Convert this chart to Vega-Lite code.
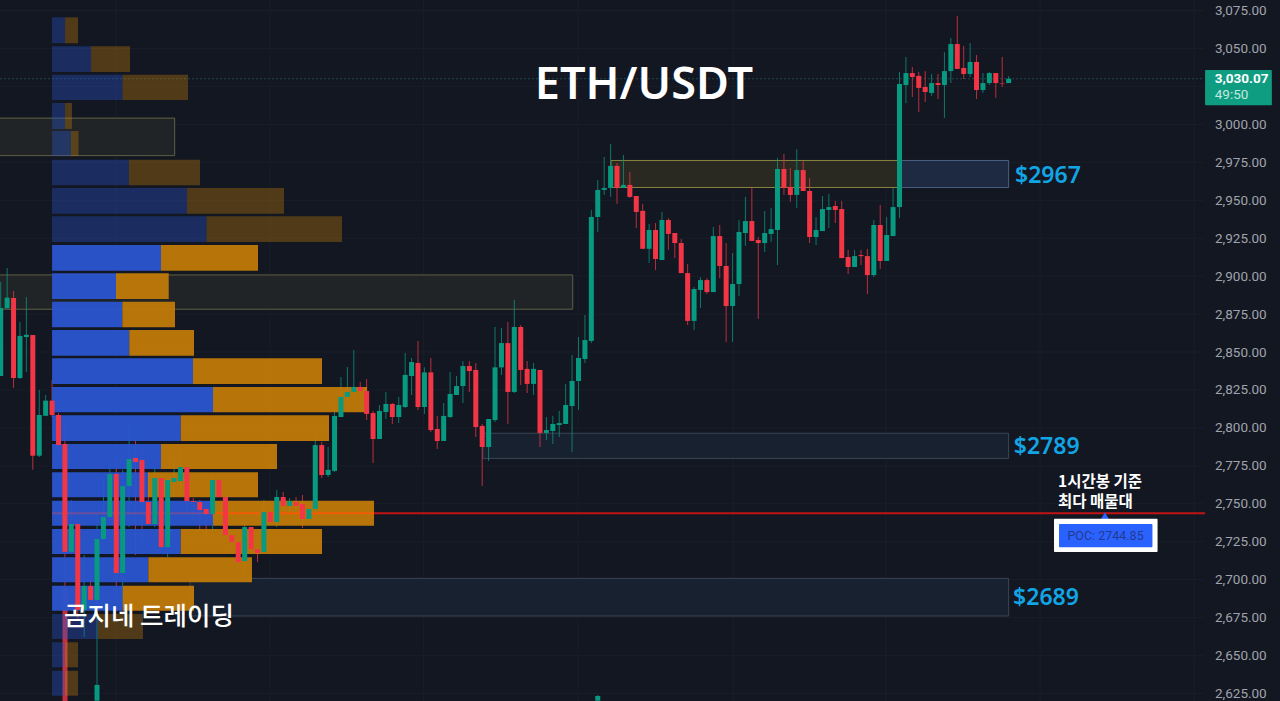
{
  "$schema": "https://vega.github.io/schema/vega-lite/v6.json",
  "width": 1280,
  "height": 701,
  "padding": 0,
  "autosize": "none",
  "background": "#131722",
  "config": {"view": {"stroke": null}, "axisX": {"disable": true}, "font": "Roboto"},
  "resolve": {"scale": {"color": "independent", "fill": "independent", "stroke": "independent"}},
  "datasets": {
    "grid": [{"price":2625},{"price":2650},{"price":2675},{"price":2700},{"price":2725},{"price":2750},{"price":2775},{"price":2800},{"price":2825},{"price":2850},{"price":2875},{"price":2900},{"price":2925},{"price":2950},{"price":2975},{"price":3000},{"price":3025},{"price":3050},{"price":3075}],
    "timegrid": [{"bar":17.96},{"bar":41.95},{"bar":65.9},{"bar":89.9},{"bar":114.1},{"bar":137.9},{"bar":161.9},{"bar":185.9}],
    "zones": [
      {"from":-1,"to":27.1,"top":3004.1,"bottom":2979.4,"kind":"olive_dark"},
      {"from":-1,"to":89.1,"top":2900.8,"bottom":2878.2,"kind":"olive_dark"},
      {"from":139.8,"to":157,"top":2976.2,"bottom":2958.4,"kind":"blue"},
      {"from":95.06,"to":139.8,"top":2976.2,"bottom":2958.4,"kind":"olive"},
      {"from":75.1,"to":157,"top":2796.5,"bottom":2779.9,"kind":"blue_dark"},
      {"from":29.5,"to":157,"top":2700.9,"bottom":2676.1,"kind":"blue_dark"}
    ],
    "profile": [
      {"lo":3053.4,"hi":3070.5,"start":8,"buy":10.02,"sell":12.04,"area":"outside"},
      {"lo":3034.5,"hi":3051.4,"start":8,"buy":14.07,"sell":20.14,"area":"outside"},
      {"lo":3016.0,"hi":3032.7,"start":8,"buy":18.97,"sell":29.17,"area":"outside"},
      {"lo":2997.0,"hi":3014.1,"start":8,"buy":10.02,"sell":11.1,"area":"outside"},
      {"lo":2979.1,"hi":2995.6,"start":8,"buy":10.95,"sell":12.12,"area":"outside"},
      {"lo":2959.8,"hi":2976.7,"start":8,"buy":19.98,"sell":31.04,"area":"outside"},
      {"lo":2941.1,"hi":2958.1,"start":8,"buy":29.02,"sell":44.13,"area":"outside"},
      {"lo":2922.5,"hi":2939.4,"start":8,"buy":32.06,"sell":53.16,"area":"outside"},
      {"lo":2903.6,"hi":2920.5,"start":8,"buy":24.97,"sell":40.08,"area":"value"},
      {"lo":2885.0,"hi":2901.9,"start":8,"buy":17.96,"sell":26.17,"area":"value"},
      {"lo":2866.3,"hi":2883.2,"start":8,"buy":18.94,"sell":27.15,"area":"value"},
      {"lo":2847.6,"hi":2864.5,"start":8,"buy":20.03,"sell":30.11,"area":"value"},
      {"lo":2829.0,"hi":2845.9,"start":8,"buy":29.95,"sell":50.05,"area":"value"},
      {"lo":2810.3,"hi":2827.0,"start":8,"buy":33.07,"sell":57.06,"area":"value"},
      {"lo":2791.4,"hi":2808.3,"start":8,"buy":28.04,"sell":51.14,"area":"value"},
      {"lo":2772.9,"hi":2789.4,"start":8,"buy":24.97,"sell":43.04,"area":"value"},
      {"lo":2754.3,"hi":2770.8,"start":8,"buy":22.94,"sell":40.08,"area":"value"},
      {"lo":2735.6,"hi":2752.0,"start":8,"buy":33.07,"sell":58.15,"area":"value"},
      {"lo":2716.9,"hi":2733.4,"start":8,"buy":28.04,"sell":50.05,"area":"value"},
      {"lo":2698.3,"hi":2714.8,"start":8,"buy":22.99,"sell":39.14,"area":"value"},
      {"lo":2679.6,"hi":2696.1,"start":8,"buy":19,"sell":30.11,"area":"value"},
      {"lo":2660.9,"hi":2677.4,"start":8,"buy":15.11,"sell":22.16,"area":"outside"},
      {"lo":2642.3,"hi":2658.8,"start":8,"buy":10.02,"sell":12.04,"area":"outside"},
      {"lo":2623.6,"hi":2640.0,"start":8,"buy":10.02,"sell":12.04,"area":"outside"}
    ],
    "poc": [
      {"price":2743.8,"from":8,"to":33,"part":"buy"},
      {"price":2743.8,"from":33,"to":58.15,"part":"sell"},
      {"price":2743.8,"from":58.15,"to":187.6,"part":"line"}
    ],
    "candles": [
      {"bar":0,"o":2834.2,"h":2896.2,"l":2834.2,"c":2879.0},
      {"bar":1,"o":2878.8,"h":2905.4,"l":2878.8,"c":2885.8},
      {"bar":2,"o":2885.6,"h":2890.2,"l":2826.3,"c":2832.9},
      {"bar":3,"o":2832.9,"h":2869.8,"l":2832.2,"c":2860.6},
      {"bar":4,"o":2859.9,"h":2886.2,"l":2836.9,"c":2861.4},
      {"bar":5,"o":2861.2,"h":2861.2,"l":2772.4,"c":2781.7},
      {"bar":6,"o":2781.7,"h":2825.0,"l":2780.8,"c":2808.5},
      {"bar":7,"o":2808.0,"h":2821.7,"l":2808.0,"c":2818.0},
      {"bar":8,"o":2818.0,"h":2831.6,"l":2807.2,"c":2808.5},
      {"bar":9,"o":2808.5,"h":2809.8,"l":2780.2,"c":2788.7},
      {"bar":10,"o":2789.4,"h":2800.6,"l":2693.3,"c":2718.4},
      {"bar":11,"o":2718.4,"h":2752.5,"l":2717.6,"c":2736.7},
      {"bar":12,"o":2736.7,"h":2747.2,"l":2673.5,"c":2680.1},
      {"bar":13,"o":2680.1,"h":2716.3,"l":2662.3,"c":2695.9},
      {"bar":14,"o":2695.9,"h":2708.4,"l":2686.7,"c":2686.7},
      {"bar":15,"o":2686.7,"h":2743.9,"l":2686.7,"c":2726.8},
      {"bar":15,"o":2620.3,"h":2686.7,"l":2620.3,"c":2630.7},
      {"bar":16,"o":2726.8,"h":2767.0,"l":2725.5,"c":2741.3},
      {"bar":17,"o":2741.3,"h":2778.9,"l":2739.3,"c":2769.7},
      {"bar":18,"o":2769.7,"h":2778.9,"l":2686.7,"c":2704.4},
      {"bar":19,"o":2704.4,"h":2772.4,"l":2682.1,"c":2761.7},
      {"bar":20,"o":2761.7,"h":2803.2,"l":2734.7,"c":2779.5},
      {"bar":21,"o":2780.2,"h":2793.3,"l":2716.3,"c":2777.6},
      {"bar":22,"o":2778.9,"h":2787.4,"l":2721.5,"c":2751.2},
      {"bar":23,"o":2751.2,"h":2770.3,"l":2736.0,"c":2736.7},
      {"bar":24,"o":2736.7,"h":2774.2,"l":2734.7,"c":2767.0},
      {"bar":25,"o":2767.0,"h":2770.3,"l":2720.9,"c":2721.5},
      {"bar":26,"o":2721.5,"h":2767.0,"l":2714.9,"c":2765.7},
      {"bar":27,"o":2764.4,"h":2778.9,"l":2754.5,"c":2767.0},
      {"bar":28,"o":2765.0,"h":2784.2,"l":2757.1,"c":2774.2},
      {"bar":29,"o":2774.2,"h":2775.5,"l":2739.3,"c":2751.8},
      {"bar":30,"o":2751.8,"h":2753.8,"l":2741.3,"c":2751.2},
      {"bar":31,"o":2751.2,"h":2752.5,"l":2732.7,"c":2745.9},
      {"bar":32,"o":2746.6,"h":2750.5,"l":2728.1,"c":2743.3},
      {"bar":33,"o":2743.3,"h":2768.3,"l":2731.4,"c":2765.7},
      {"bar":34,"o":2765.7,"h":2765.7,"l":2754.5,"c":2754.5},
      {"bar":35,"o":2754.5,"h":2754.5,"l":2728.1,"c":2729.4},
      {"bar":36,"o":2729.4,"h":2731.4,"l":2721.5,"c":2724.8},
      {"bar":37,"o":2724.8,"h":2724.8,"l":2710.3,"c":2711.6},
      {"bar":38,"o":2712.3,"h":2741.3,"l":2704.4,"c":2734.7},
      {"bar":39,"o":2734.7,"h":2734.7,"l":2719.5,"c":2720.2},
      {"bar":40,"o":2720.2,"h":2721.5,"l":2711.7,"c":2717.6},
      {"bar":41,"o":2718.2,"h":2752.5,"l":2717.6,"c":2744.6},
      {"bar":42,"o":2744.6,"h":2745.9,"l":2737.3,"c":2738.0},
      {"bar":43,"o":2738.0,"h":2759.1,"l":2734.7,"c":2754.5},
      {"bar":44,"o":2754.5,"h":2757.8,"l":2745.9,"c":2748.6},
      {"bar":45,"o":2748.6,"h":2753.8,"l":2743.9,"c":2751.8},
      {"bar":46,"o":2751.2,"h":2754.5,"l":2742.6,"c":2748.6},
      {"bar":47,"o":2749.9,"h":2755.8,"l":2734.0,"c":2740.0},
      {"bar":48,"o":2740.0,"h":2747.2,"l":2739.3,"c":2746.6},
      {"bar":49,"o":2746.6,"h":2796.7,"l":2745.9,"c":2788.7},
      {"bar":50,"o":2788.7,"h":2790.8,"l":2767.0,"c":2769.0},
      {"bar":51,"o":2769.0,"h":2787.4,"l":2767.7,"c":2772.4},
      {"bar":52,"o":2771.7,"h":2815.1,"l":2771.0,"c":2807.9},
      {"bar":53,"o":2807.2,"h":2833.5,"l":2807.2,"c":2820.4},
      {"bar":54,"o":2820.4,"h":2840.1,"l":2810.5,"c":2823.7},
      {"bar":55,"o":2823.7,"h":2851.3,"l":2819.7,"c":2827.0},
      {"bar":56,"o":2827.0,"h":2830.3,"l":2823.7,"c":2824.3},
      {"bar":57,"o":2824.3,"h":2832.2,"l":2805.2,"c":2809.2},
      {"bar":58,"o":2809.8,"h":2811.2,"l":2776.9,"c":2792.7},
      {"bar":59,"o":2792.7,"h":2815.1,"l":2792.7,"c":2811.2},
      {"bar":60,"o":2810.5,"h":2823.7,"l":2805.9,"c":2815.8},
      {"bar":61,"o":2815.8,"h":2816.4,"l":2802.6,"c":2807.2},
      {"bar":62,"o":2807.2,"h":2820.4,"l":2803.2,"c":2815.1},
      {"bar":63,"o":2813.8,"h":2849.4,"l":2813.1,"c":2834.9},
      {"bar":64,"o":2834.2,"h":2846.1,"l":2821.7,"c":2843.4},
      {"bar":65,"o":2842.8,"h":2857.3,"l":2811.8,"c":2813.8},
      {"bar":66,"o":2813.8,"h":2839.9,"l":2809.2,"c":2836.6},
      {"bar":67,"o":2836.6,"h":2846.1,"l":2797.3,"c":2798.6},
      {"bar":68,"o":2799.3,"h":2807.9,"l":2786.1,"c":2791.4},
      {"bar":69,"o":2791.4,"h":2816.4,"l":2791.4,"c":2807.9},
      {"bar":70,"o":2807.2,"h":2836.9,"l":2806.5,"c":2822.4},
      {"bar":71,"o":2821.7,"h":2834.2,"l":2821.7,"c":2827.6},
      {"bar":72,"o":2827.6,"h":2844.1,"l":2816.4,"c":2840.8},
      {"bar":73,"o":2840.8,"h":2844.1,"l":2823.7,"c":2837.5},
      {"bar":74,"o":2838.2,"h":2842.8,"l":2794.0,"c":2800.6},
      {"bar":75,"o":2801.3,"h":2802.6,"l":2761.7,"c":2787.4},
      {"bar":76,"o":2787.4,"h":2805.9,"l":2778.2,"c":2805.9},
      {"bar":77,"o":2805.2,"h":2866.5,"l":2803.9,"c":2839.9},
      {"bar":78,"o":2839.9,"h":2865.9,"l":2834.9,"c":2855.9},
      {"bar":79,"o":2855.9,"h":2869.8,"l":2802.6,"c":2823.7},
      {"bar":80,"o":2823.7,"h":2884.3,"l":2823.0,"c":2866.5},
      {"bar":81,"o":2866.5,"h":2867.8,"l":2828.3,"c":2838.2},
      {"bar":82,"o":2838.9,"h":2844.1,"l":2823.0,"c":2829.0},
      {"bar":83,"o":2829.0,"h":2842.8,"l":2821.7,"c":2838.9},
      {"bar":84,"o":2838.2,"h":2838.2,"l":2787.4,"c":2796.7},
      {"bar":85,"o":2796.7,"h":2807.2,"l":2792.0,"c":2798.6},
      {"bar":86,"o":2798.0,"h":2807.9,"l":2789.4,"c":2802.6},
      {"bar":87,"o":2801.9,"h":2811.2,"l":2794.0,"c":2803.2},
      {"bar":88,"o":2802.6,"h":2829.0,"l":2802.6,"c":2815.1},
      {"bar":89,"o":2814.4,"h":2848.0,"l":2784.2,"c":2830.9},
      {"bar":90,"o":2830.9,"h":2859.9,"l":2811.8,"c":2846.1},
      {"bar":91,"o":2845.4,"h":2874.4,"l":2842.8,"c":2857.9},
      {"bar":92,"o":2857.3,"h":2943.6,"l":2855.9,"c":2939.0},
      {"bar":93,"o":2939.0,"h":2963.3,"l":2929.1,"c":2956.8},
      {"bar":93,"o":2620.3,"h":2624.0,"l":2620.3,"c":2623.4},
      {"bar":94,"o":2956.8,"h":2978.5,"l":2953.5,"c":2958.1},
      {"bar":95,"o":2958.1,"h":2987.0,"l":2952.2,"c":2972.6},
      {"bar":96,"o":2972.6,"h":2974.5,"l":2947.6,"c":2958.1},
      {"bar":97,"o":2958.1,"h":2979.8,"l":2958.1,"c":2960.1},
      {"bar":98,"o":2960.1,"h":2968.6,"l":2951.5,"c":2952.2},
      {"bar":99,"o":2952.8,"h":2952.8,"l":2931.7,"c":2942.3},
      {"bar":100,"o":2943.0,"h":2947.6,"l":2918.0,"c":2918.0},
      {"bar":101,"o":2918.0,"h":2934.3,"l":2908.7,"c":2930.4},
      {"bar":102,"o":2930.4,"h":2935.0,"l":2904.0,"c":2911.3},
      {"bar":103,"o":2910.6,"h":2942.3,"l":2910.6,"c":2937.0},
      {"bar":104,"o":2937.0,"h":2938.3,"l":2917.3,"c":2927.8},
      {"bar":105,"o":2928.4,"h":2928.4,"l":2911.9,"c":2921.8},
      {"bar":106,"o":2921.8,"h":2924.5,"l":2902.0,"c":2902.0},
      {"bar":107,"o":2902.0,"h":2908.0,"l":2867.8,"c":2870.5},
      {"bar":108,"o":2870.5,"h":2892.8,"l":2864.5,"c":2891.5},
      {"bar":109,"o":2890.9,"h":2899.4,"l":2879.0,"c":2897.4},
      {"bar":110,"o":2897.4,"h":2898.7,"l":2888.2,"c":2889.5},
      {"bar":111,"o":2889.5,"h":2932.4,"l":2889.5,"c":2926.4},
      {"bar":112,"o":2926.4,"h":2933.7,"l":2898.7,"c":2906.7},
      {"bar":113,"o":2906.7,"h":2921.8,"l":2856.6,"c":2880.3},
      {"bar":114,"o":2880.3,"h":2915.2,"l":2856.6,"c":2894.8},
      {"bar":115,"o":2894.8,"h":2937.0,"l":2886.9,"c":2929.1},
      {"bar":116,"o":2928.4,"h":2952.2,"l":2919.9,"c":2936.3},
      {"bar":117,"o":2936.3,"h":2958.8,"l":2923.2,"c":2923.2},
      {"bar":118,"o":2923.8,"h":2925.8,"l":2871.8,"c":2921.8},
      {"bar":119,"o":2921.8,"h":2942.9,"l":2915.9,"c":2928.4},
      {"bar":120,"o":2927.8,"h":2944.9,"l":2922.5,"c":2931.0},
      {"bar":121,"o":2930.4,"h":2977.8,"l":2907.3,"c":2970.6},
      {"bar":122,"o":2970.6,"h":2980.5,"l":2953.5,"c":2958.1},
      {"bar":123,"o":2958.8,"h":2971.2,"l":2948.9,"c":2953.5},
      {"bar":124,"o":2953.5,"h":2983.7,"l":2944.9,"c":2969.9},
      {"bar":125,"o":2969.9,"h":2975.8,"l":2956.1,"c":2956.1},
      {"bar":126,"o":2956.1,"h":2964.6,"l":2921.8,"c":2925.8},
      {"bar":127,"o":2925.8,"h":2938.9,"l":2920.5,"c":2930.4},
      {"bar":128,"o":2929.7,"h":2952.8,"l":2929.7,"c":2944.2},
      {"bar":129,"o":2943.6,"h":2954.1,"l":2931.7,"c":2945.5},
      {"bar":130,"o":2946.2,"h":2949.5,"l":2935.0,"c":2943.6},
      {"bar":131,"o":2944.2,"h":2949.5,"l":2911.9,"c":2911.9},
      {"bar":132,"o":2912.6,"h":2917.3,"l":2901.4,"c":2906.0},
      {"bar":133,"o":2906.0,"h":2917.3,"l":2906.0,"c":2913.2},
      {"bar":134,"o":2913.9,"h":2917.3,"l":2907.3,"c":2913.2},
      {"bar":135,"o":2913.2,"h":2918.0,"l":2888.2,"c":2900.7},
      {"bar":136,"o":2900.7,"h":2937.0,"l":2899.4,"c":2933.7},
      {"bar":137,"o":2933.7,"h":2946.9,"l":2904.7,"c":2910.0},
      {"bar":138,"o":2910.0,"h":2938.9,"l":2910.0,"c":2927.1},
      {"bar":139,"o":2926.4,"h":2958.1,"l":2926.4,"c":2945.5},
      {"bar":140,"o":2945.5,"h":3034.5,"l":2938.3,"c":3026.6},
      {"bar":141,"o":3025.9,"h":3044.4,"l":3014.0,"c":3033.8},
      {"bar":142,"o":3033.8,"h":3037.8,"l":3018.0,"c":3031.2},
      {"bar":143,"o":3031.9,"h":3034.5,"l":3008.1,"c":3024.0},
      {"bar":144,"o":3024.6,"h":3035.1,"l":3014.7,"c":3021.3},
      {"bar":145,"o":3020.7,"h":3033.2,"l":3018.7,"c":3027.2},
      {"bar":146,"o":3027.2,"h":3033.2,"l":3016.7,"c":3025.9},
      {"bar":147,"o":3025.9,"h":3047.7,"l":3004.2,"c":3035.1},
      {"bar":148,"o":3035.1,"h":3056.9,"l":3027.2,"c":3052.9},
      {"bar":149,"o":3052.9,"h":3071.4,"l":3036.5,"c":3036.5},
      {"bar":150,"o":3037.1,"h":3051.6,"l":3029.9,"c":3033.2},
      {"bar":151,"o":3033.2,"h":3053.6,"l":3031.2,"c":3041.1},
      {"bar":152,"o":3041.1,"h":3045.7,"l":3016.7,"c":3022.6},
      {"bar":153,"o":3022.6,"h":3033.8,"l":3020.7,"c":3027.2},
      {"bar":154,"o":3027.2,"h":3034.5,"l":3025.9,"c":3033.8},
      {"bar":155,"o":3033.8,"h":3033.8,"l":3017.4,"c":3027.2},
      {"bar":156,"o":3027.2,"h":3044.4,"l":3024.6,"c":3026.9},
      {"bar":157,"o":3027.2,"h":3031.8,"l":3027.2,"c":3030.07}
    ]
  },
  "layer": [
    {
      "data": {"name": "grid"},
      "mark": {"type": "rule", "color": "#1a1e29", "strokeWidth": 1},
      "encoding": {
        "x": {"datum": -0.11, "type": "quantitative", "scale": {"domain": [-0.11, 199.27], "nice": false, "zero": false, "padding": 0}},
        "x2": {"datum": 187.4},
        "y": {
          "field": "price",
          "type": "quantitative",
          "scale": {"domain": [2620.1, 3081.92], "nice": false, "zero": false, "padding": 0},
          "axis": null
        }
      }
    },
    {
      "data": {"name": "timegrid"},
      "mark": {"type": "rule", "color": "#1a1e29", "strokeWidth": 1},
      "encoding": {"x": {"field": "bar", "type": "quantitative"}}
    },
    {
      "data": {"values": [{"price": 3030.07}]},
      "mark": {"type": "rule", "color": "#1f4a4c", "strokeWidth": 1, "strokeDash": [2, 2]},
      "encoding": {
        "x": {"datum": -0.11, "type": "quantitative"},
        "x2": {"datum": 187.4},
        "y": {"field": "price", "type": "quantitative", "axis": null}
      }
    },
    {
      "data": {"name": "zones"},
      "mark": {"type": "rect", "strokeWidth": 1, "clip": true},
      "encoding": {
        "x": {"field": "from", "type": "quantitative"},
        "x2": {"field": "to"},
        "y": {"field": "top", "type": "quantitative", "axis": null},
        "y2": {"field": "bottom"},
        "fill": {"field": "kind", "type": "nominal", "legend": null, "scale": {"domain": ["olive_dark", "olive", "blue", "blue_dark"], "range": ["#212426", "#292922", "#1e2a42", "#182130"]}},
        "stroke": {"field": "kind", "type": "nominal", "legend": null, "scale": {"domain": ["olive_dark", "olive", "blue", "blue_dark"], "range": ["#5f5f45", "#87853c", "#48607f", "#3a4556"]}}
      }
    },
    {
      "data": {"name": "candles"},
      "mark": {"type": "rule", "strokeWidth": 1, "opacity": 0.75, "clip": true},
      "encoding": {
        "x": {"field": "bar", "type": "quantitative"},
        "y": {"field": "h", "type": "quantitative", "axis": null},
        "y2": {"field": "l"},
        "color": {"condition": {"test": "datum.c >= datum.o", "value": "#089981"}, "value": "#f23645"}
      }
    },
    {
      "data": {"values": [{"from": 9.63, "to": 10.41, "top": 2694.6, "bottom": 2620.1}]},
      "mark": {"type": "rect", "color": "#f23645", "opacity": 0.8},
      "encoding": {
        "x": {"field": "from", "type": "quantitative"},
        "x2": {"field": "to"},
        "y": {"field": "top", "type": "quantitative", "axis": null},
        "y2": {"field": "bottom"}
      }
    },
    {
      "data": {"name": "profile"},
      "mark": {"type": "rect", "color": "#2a55d0"},
      "encoding": {
        "x": {"field": "start", "type": "quantitative"},
        "x2": {"field": "buy"},
        "y": {"field": "hi", "type": "quantitative", "axis": null},
        "y2": {"field": "lo"},
        "opacity": {"field": "area", "type": "nominal", "legend": null, "scale": {"domain": ["value", "outside"], "range": [0.95, 0.36]}}
      }
    },
    {
      "data": {"name": "profile"},
      "mark": {"type": "rect", "color": "#c07a08"},
      "encoding": {
        "x": {"field": "buy", "type": "quantitative"},
        "x2": {"field": "sell"},
        "y": {"field": "hi", "type": "quantitative", "axis": null},
        "y2": {"field": "lo"},
        "opacity": {"field": "area", "type": "nominal", "legend": null, "scale": {"domain": ["value", "outside"], "range": [0.95, 0.36]}}
      }
    },
    {
      "data": {"name": "poc"},
      "mark": {"type": "rule", "strokeWidth": 2.2},
      "encoding": {
        "x": {"field": "from", "type": "quantitative"},
        "x2": {"field": "to"},
        "y": {"field": "price", "type": "quantitative", "axis": null},
        "color": {"field": "part", "type": "nominal", "legend": null, "scale": {"domain": ["buy", "sell", "line"], "range": ["#6a4f9e", "#f25c05", "#c01414"]}}
      }
    },
    {
      "data": {"name": "candles"},
      "mark": {"type": "bar", "width": 5, "clip": true},
      "encoding": {
        "x": {"field": "bar", "type": "quantitative"},
        "y": {"field": "o", "type": "quantitative", "axis": null},
        "y2": {"field": "c"},
        "color": {"condition": {"test": "datum.c >= datum.o", "value": "#089981"}, "value": "#f23645"}
      }
    },
    {
      "data": {"name": "grid"},
      "transform": [{"filter": "datum.price != 3025"}],
      "mark": {"type": "text", "font": "Roboto", "fontSize": 13.5, "color": "#a0a3ac", "align": "right", "baseline": "middle", "dy": 0.5},
      "encoding": {
        "x": {"datum": 197.2, "type": "quantitative"},
        "y": {"field": "price", "type": "quantitative", "axis": null},
        "text": {"field": "price", "type": "quantitative", "format": ",.2f"}
      }
    },
    {
      "data": {"values": [{"bar": 172, "price": 2742}]},
      "mark": {"type": "point", "shape": "triangle-up", "filled": true, "size": 70, "color": "#2962ff", "opacity": 1},
      "encoding": {
        "x": {"field": "bar", "type": "quantitative"},
        "y": {"field": "price", "type": "quantitative", "axis": null}
      }
    },
    {
      "data": {"values": [
        {"from": 187.6, "to": 198, "top": 3035.8, "bottom": 3012.5, "box": "last"},
        {"from": 164.07, "to": 180.2, "top": 2740.2, "bottom": 2718.3, "box": "poc_frame"},
        {"from": 164.85, "to": 179.4, "top": 2736.7, "bottom": 2721.4, "box": "poc"}
      ]},
      "mark": {"type": "rect", "cornerRadius": 1},
      "encoding": {
        "x": {"field": "from", "type": "quantitative"},
        "x2": {"field": "to"},
        "y": {"field": "top", "type": "quantitative", "axis": null},
        "y2": {"field": "bottom"},
        "fill": {"field": "box", "type": "nominal", "legend": null, "scale": {"domain": ["last", "poc_frame", "poc"], "range": ["#0f9d82", "#ffffff", "#2962ff"]}}
      }
    },
    {
      "data": {"values": [{"label": "ETH/USDT", "bar": 100.2, "price": 3026.0}]},
      "mark": {"type": "text", "font": "Noto Sans", "fontSize": 45, "fontWeight": 600, "color": "#ffffff", "align": "center", "baseline": "middle"},
      "encoding": {
        "x": {"field": "bar", "type": "quantitative"},
        "y": {"field": "price", "type": "quantitative", "axis": null},
        "text": {"field": "label"}
      }
    },
    {
      "data": {"values": [
        {"label": "$2967", "bar": 158, "price": 2967},
        {"label": "$2789", "bar": 157.8, "price": 2789},
        {"label": "$2689", "bar": 157.7, "price": 2689}
      ]},
      "mark": {"type": "text", "font": "Noto Sans", "fontSize": 23, "fontWeight": 600, "color": "#12a5e5", "align": "left", "baseline": "middle", "dy": 2},
      "encoding": {
        "x": {"field": "bar", "type": "quantitative"},
        "y": {"field": "price", "type": "quantitative", "axis": null},
        "text": {"field": "label"}
      }
    },
    {
      "data": {"values": [
        {"label": "1시간봉 기준", "bar": 164.7, "price": 2765},
        {"label": "최다 매물대", "bar": 164.7, "price": 2751.9}
      ]},
      "mark": {"type": "text", "font": "Noto Sans CJK KR", "fontSize": 15.5, "fontWeight": 700, "color": "#ffffff", "align": "left", "baseline": "middle", "dy": 1},
      "encoding": {
        "x": {"field": "bar", "type": "quantitative"},
        "y": {"field": "price", "type": "quantitative", "axis": null},
        "text": {"field": "label"}
      }
    },
    {
      "data": {"values": [{"label": "곰지네 트레이딩", "bar": 9.86, "price": 2676.8}]},
      "mark": {"type": "text", "font": "Noto Sans CJK KR", "fontSize": 25.5, "fontWeight": 500, "color": "#ffffff", "align": "left", "baseline": "middle", "dy": 2},
      "encoding": {
        "x": {"field": "bar", "type": "quantitative"},
        "y": {"field": "price", "type": "quantitative", "axis": null},
        "text": {"field": "label"}
      }
    },
    {
      "data": {"values": [{"label": "POC: 2744.85", "bar": 172.1, "price": 2729}]},
      "mark": {"type": "text", "font": "Roboto", "fontSize": 12.5, "color": "#27398f", "align": "center", "baseline": "middle"},
      "encoding": {
        "x": {"field": "bar", "type": "quantitative"},
        "y": {"field": "price", "type": "quantitative", "axis": null},
        "text": {"field": "label"}
      }
    },
    {
      "data": {"values": [{"label": "3,030.07", "bar": 189.1, "price": 3029.9}]},
      "mark": {"type": "text", "font": "Roboto", "fontSize": 13.5, "fontWeight": 700, "color": "#ffffff", "align": "left", "baseline": "middle"},
      "encoding": {
        "x": {"field": "bar", "type": "quantitative"},
        "y": {"field": "price", "type": "quantitative", "axis": null},
        "text": {"field": "label"}
      }
    },
    {
      "data": {"values": [{"label": "49:50", "bar": 189.1, "price": 3019.3}]},
      "mark": {"type": "text", "font": "Roboto", "fontSize": 13.5, "color": "#c3e8df", "align": "left", "baseline": "middle"},
      "encoding": {
        "x": {"field": "bar", "type": "quantitative"},
        "y": {"field": "price", "type": "quantitative", "axis": null},
        "text": {"field": "label"}
      }
    }
  ]
}
